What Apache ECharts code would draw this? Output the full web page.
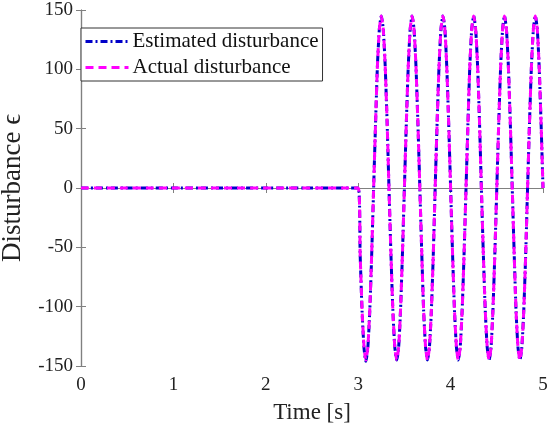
<!DOCTYPE html>
<html><head><meta charset="utf-8">
<script src="https://cdn.jsdelivr.net/npm/echarts@6/dist/echarts.min.js"></script>
<style>html,body{margin:0;padding:0;background:#fff}#c{width:550px;height:428px}</style>
</head><body><div id="c"></div>
<script>
var timeS = [0,
  3.000,3.021,3.042,3.063,3.083,3.104,3.125,3.146,3.167,3.188,3.208,3.229,3.250,3.271,3.292,3.313,
  3.333,3.354,3.375,3.396,3.417,3.438,3.458,3.479,3.500,3.521,3.542,3.563,3.583,3.604,3.625,3.646,
  3.667,3.688,3.708,3.729,3.750,3.771,3.792,3.813,3.833,3.854,3.875,3.896,3.917,3.938,3.958,3.979,
  4.000,4.021,4.042,4.063,4.083,4.104,4.125,4.146,4.167,4.188,4.208,4.229,4.250,4.271,4.292,4.313,
  4.333,4.354,4.375,4.396,4.417,4.438,4.458,4.479,4.500,4.521,4.542,4.563,4.583,4.604,4.625,4.646,
  4.667,4.688,4.708,4.729,4.750,4.771,4.792,4.813,4.833,4.854,4.875,4.896,4.917,4.938,4.958,4.979,
  5.000];
var estimated = [0,
  0,-56,-104,-135,-146,-135,-104,-56,0,55,103,134,145,134,103,55,
  0,-55,-103,-134,-145,-134,-103,-55,0,55,103,134,145,134,103,55,
  0,-55,-103,-134,-145,-134,-103,-55,0,55,103,134,145,134,103,55,
  0,-55,-103,-134,-145,-134,-103,-55,0,55,103,134,145,134,103,55,
  0,-55,-103,-134,-145,-134,-103,-55,0,55,103,134,145,134,103,55,
  0,-55,-103,-134,-145,-134,-103,-55,0,55,103,134,145,134,103,55,
  0];
var actual = [0,
  0,-55,-103,-134,-145,-134,-103,-55,0,55,103,134,145,134,103,55,
  0,-55,-103,-134,-145,-134,-103,-55,0,55,103,134,145,134,103,55,
  0,-55,-103,-134,-145,-134,-103,-55,0,55,103,134,145,134,103,55,
  0,-55,-103,-134,-145,-134,-103,-55,0,55,103,134,145,134,103,55,
  0,-55,-103,-134,-145,-134,-103,-55,0,55,103,134,145,134,103,55,
  0,-55,-103,-134,-145,-134,-103,-55,0,55,103,134,145,134,103,55,
  0];
var xTicks = [0, 1, 2, 3, 4, 5];
var yTicks = [-150, -100, -50, 0, 50, 100, 150];

function pairs(xs, ys){ return xs.map(function(x,i){ return [x, ys[i]]; }); }
var FONT = '"Liberation Serif","DejaVu Serif",serif';
var chart = echarts.init(document.getElementById('c'));
var axLine = {show:true, lineStyle:{color:'#808080', width:1.2}};
var tick = {inside:true, length:5, lineStyle:{color:'#808080'}};
chart.setOption({
  animation:false,
  backgroundColor:'#fff',
  grid:{left:81, right:7, top:10, bottom:62, containLabel:false, outerBoundsMode:'none'},
  legend:{
    left:81, top:28, orient:'vertical', itemWidth:43, itemHeight:12, itemGap:5,
    backgroundColor:'#fff', borderColor:'#333', borderWidth:1, padding:[3,4,3,3],
    itemStyle:{opacity:0},
    lineStyle:{width:3},
    textStyle:{fontFamily:FONT, fontSize:21, color:'#111', padding:[0,0,0,-1]},
    data:['Estimated disturbance','Actual disturbance']
  },
  xAxis:[{
    type:'value', min:xTicks[0], max:xTicks[xTicks.length-1], interval:1,
    name:'Time [s]', nameLocation:'middle', nameGap:35,
    nameTextStyle:{fontFamily:FONT, fontSize:23, color:'#222'},
    axisLine:axLine, axisTick:tick,
    axisLabel:{fontFamily:FONT, fontSize:19, color:'#222', margin:10},
    splitLine:{show:false}
  },{
    type:'value', position:'top', min:xTicks[0], max:xTicks[xTicks.length-1], interval:1,
    axisLine:axLine, axisTick:tick, axisLabel:{show:false}, splitLine:{show:false}
  }],
  yAxis:[{
    type:'value', min:yTicks[0], max:yTicks[yTicks.length-1], interval:50,
    name:'Disturbance \u03f5', nameLocation:'middle', nameGap:55,
    nameTextStyle:{fontFamily:FONT, fontSize:27, color:'#222'},
    axisLine:axLine, axisTick:tick,
    axisLabel:{fontFamily:FONT, fontSize:19, color:'#222', margin:8},
    splitLine:{show:false}
  },{
    type:'value', position:'right', min:yTicks[0], max:yTicks[yTicks.length-1], interval:50,
    axisLine:axLine, axisTick:tick, axisLabel:{show:false}, splitLine:{show:false}
  }],
  series:[{
    name:'Estimated disturbance', type:'line', data:pairs(timeS, estimated),
    showSymbol:false, symbol:'none', smooth:0.2,
    lineStyle:{color:'#0000c8', width:3, type:[7,3,2,3]},
    itemStyle:{color:'#0000c8'}, z:2
  },{
    name:'Actual disturbance', type:'line', data:pairs(timeS, actual),
    showSymbol:false, symbol:'none', smooth:0.2,
    lineStyle:{color:'#ff00ff', width:3, type:[8,5]},
    itemStyle:{color:'#ff00ff'}, z:3
  }]
});
</script></body></html>
